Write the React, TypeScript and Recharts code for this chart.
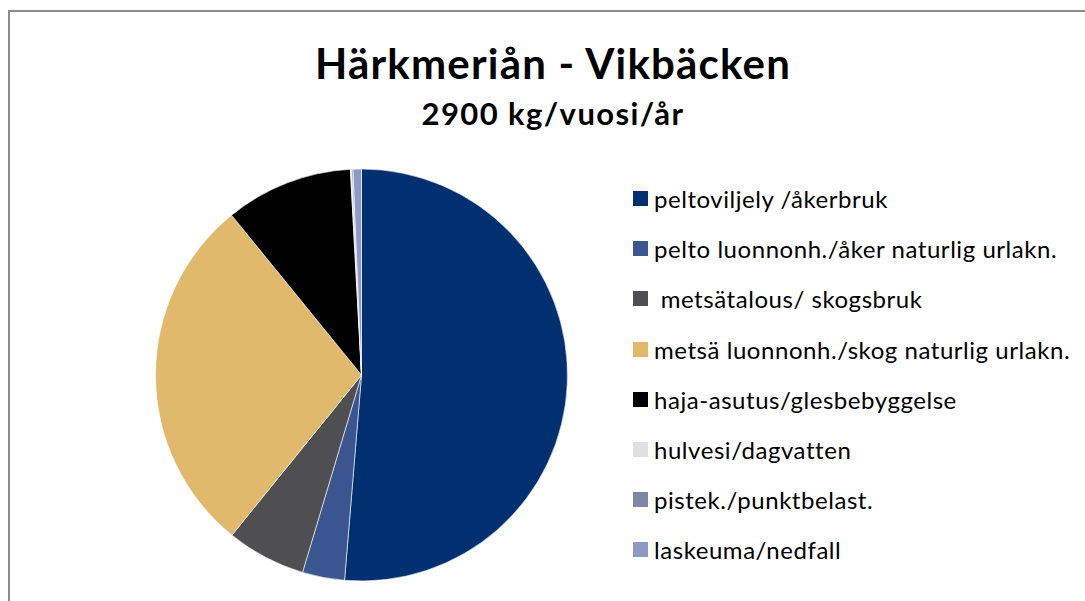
import React from "react";
import { PieChart, Pie, Cell } from "recharts";

const categories = [
  "peltoviljely /åkerbruk",
  "pelto luonnonh./åker naturlig urlakn.",
  " metsätalous/ skogsbruk",
  "metsä luonnonh./skog naturlig urlakn.",
  "haja-asutus/glesbebyggelse",
  "hulvesi/dagvatten",
  "pistek./punktbelast.",
  "laskeuma/nedfall",
];
const loads = [1488, 96, 180, 821, 290, 3, 3, 19];
const colors = ["#003070", "#3a5590", "#4f4f51", "#e0b96c", "#000000", "#e0e0e0", "#7f86a6", "#8d9ac6"];

const title = "Härkmeriån - Vikbäcken";
const subtitle = "2900 kg/vuosi/år";

const data = categories.map((name, i) => ({ name, value: loads[i] }));

const FONT = "Lato, 'Open Sans', sans-serif";

export default function App() {
  return (
    <div
      style={{
        position: "absolute",
        left: 8,
        top: 10,
        width: 1077,
        height: 591,
        borderTop: "2px solid #8c8c8c",
        borderLeft: "2px solid #8c8c8c",
        boxSizing: "border-box",
        background: "#fff",
        overflow: "hidden",
      }}
    >
      <div
        style={{
          position: "absolute",
          left: 0,
          width: 1086,
          top: 26,
          textAlign: "center",
          fontFamily: FONT,
          fontWeight: 700,
          fontSize: 42,
          letterSpacing: 1.2,
          lineHeight: "50px",
          color: "#000",
        }}
      >
        {title}
      </div>
      <div
        style={{
          position: "absolute",
          left: 0,
          width: 1086,
          top: 83,
          textAlign: "center",
          fontFamily: FONT,
          fontWeight: 700,
          fontSize: 31,
          letterSpacing: 1.4,
          lineHeight: "36px",
          color: "#000",
        }}
      >
        {subtitle}
      </div>
      <PieChart width={1075} height={589} style={{ position: "absolute", left: 0, top: 0 }}>
        <Pie
          data={data}
          dataKey="value"
          nameKey="name"
          cx={346.5}
          cy={358}
          outerRadius={206}
          startAngle={90}
          endAngle={-270}
          stroke="#ffffff"
          strokeWidth={0.6}
          isAnimationActive={false}
        >
          {data.map((d, i) => (
            <Cell key={d.name} fill={colors[i]} />
          ))}
        </Pie>
      </PieChart>
      <div style={{ position: "absolute", left: 623, top: 161.5, fontFamily: FONT }}>
        {categories.map((name, i) => (
          <div key={name} style={{ display: "flex", alignItems: "center", height: 50.2 }}>
            <span style={{ width: 15, height: 15, background: colors[i], marginRight: 6, flex: "none" }} />
            <span style={{ fontSize: 24, letterSpacing: 0.55, color: "#000", whiteSpace: "pre" }}>{name}</span>
          </div>
        ))}
      </div>
    </div>
  );
}
